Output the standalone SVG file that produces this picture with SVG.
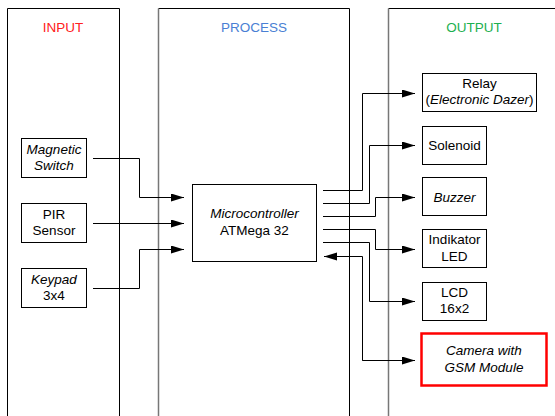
<svg xmlns="http://www.w3.org/2000/svg" width="555" height="416" viewBox="0 0 555 416">
<defs>
<marker id="arr" markerUnits="userSpaceOnUse" markerWidth="14" markerHeight="10" refX="13" refY="4" orient="auto">
<path d="M0,0 L13,4 L0,8 z" fill="#000"/>
</marker>
<style>
.col{fill:none;stroke:#000;stroke-width:1}
.colL{fill:none;stroke:#777;stroke-width:1.5}
.box{fill:#fff;stroke:#000;stroke-width:1}
.red{fill:#fff;stroke:#ff0000;stroke-width:2.5}
.t{font-family:"Liberation Sans",Arial,sans-serif;font-size:13.5px;text-anchor:middle;fill:#000}
.i{font-style:italic}
.hd{font-family:"Liberation Sans",Arial,sans-serif;font-size:13.5px;text-anchor:middle}
.ln{fill:none;stroke:#000;stroke-width:1}
</style>
</defs>
<rect width="555" height="416" fill="#fff"/>
<g id="columns">
<path class="col" d="M7.5,420 V8.5 H119.5 V420"/>
<path class="col" d="M158.5,8.5 H349.5 V420"/>
<path class="colL" d="M158.5,420 V8.5"/>
<path class="col" d="M388.5,8.5 H555"/>
<path class="colL" d="M388.5,420 V8.5"/>
<text class="hd" x="63" y="32" fill="#ff2020">INPUT</text>
<text class="hd" x="254" y="32" fill="#4a7fd4">PROCESS</text>
<text class="hd" x="474" y="32" fill="#1cb050">OUTPUT</text>
</g>
<g id="connectors">
<polyline class="ln" points="93,158.5 139.5,158.5 139.5,197.5 184,197.5" marker-end="url(#arr)"/>
<polyline class="ln" points="93,223.5 184,223.5" marker-end="url(#arr)"/>
<polyline class="ln" points="93,288.5 139.5,288.5 139.5,249.5 184,249.5" marker-end="url(#arr)"/>
<polyline class="ln" points="323,190.5 362.5,190.5 362.5,93.5 415,93.5" marker-end="url(#arr)"/>
<polyline class="ln" points="323,203.5 369.5,203.5 369.5,145.5 415,145.5" marker-end="url(#arr)"/>
<polyline class="ln" points="323,216.5 375.5,216.5 375.5,197.5 415,197.5" marker-end="url(#arr)"/>
<polyline class="ln" points="323,229.5 375.5,229.5 375.5,249.5 415,249.5" marker-end="url(#arr)"/>
<polyline class="ln" points="323,242.5 369.5,242.5 369.5,301.5 415,301.5" marker-end="url(#arr)"/>
<polyline class="ln" points="415,360.5 362.5,360.5 362.5,256.5 324,256.5" marker-end="url(#arr)"/>
<line class="ln" x1="362.5" y1="360.5" x2="415" y2="360.5" marker-end="url(#arr)"/>
</g>
<g id="magnetic">
<rect class="box" x="21.5" y="138.5" width="65" height="39"/>
<text class="t i" x="54" y="154">Magnetic</text>
<text class="t i" x="54" y="170">Switch</text>
</g>
<g id="pir">
<rect class="box" x="21.5" y="203.5" width="65" height="39"/>
<text class="t" x="54" y="219">PIR</text>
<text class="t" x="54" y="235">Sensor</text>
</g>
<g id="keypad">
<rect class="box" x="21.5" y="268.5" width="65" height="39"/>
<text class="t" x="54" y="284"><tspan class="i">Keypad</tspan></text>
<text class="t" x="54" y="300">3x4</text>
</g>
<g id="micro">
<rect class="box" x="192.5" y="184.5" width="124" height="77"/>
<text class="t i" x="254.5" y="218">Microcontroller</text>
<text class="t" x="254.5" y="235">ATMega 32</text>
</g>
<g id="relay">
<rect class="box" x="422.5" y="73.5" width="114" height="38"/>
<text class="t" x="479.5" y="88">Relay</text>
<text class="t" x="479.5" y="104">(<tspan class="i">Electronic Dazer</tspan>)</text>
</g>
<g id="solenoid">
<rect class="box" x="422.5" y="126.5" width="64" height="38"/>
<text class="t" x="454.5" y="150">Solenoid</text>
</g>
<g id="buzzer">
<rect class="box" x="422.5" y="177.5" width="64" height="38"/>
<text class="t i" x="454.5" y="202">Buzzer</text>
</g>
<g id="indikator">
<rect class="box" x="422.5" y="229.5" width="64" height="38"/>
<text class="t" x="454.5" y="244">Indikator</text>
<text class="t" x="454.5" y="261">LED</text>
</g>
<g id="lcd">
<rect class="box" x="422.5" y="282.5" width="64" height="38"/>
<text class="t" x="454.5" y="297">LCD</text>
<text class="t" x="454.5" y="313">16x2</text>
</g>
<g id="camera">
<rect class="red" x="421.5" y="333.5" width="125" height="52"/>
<text class="t i" x="484" y="355">Camera with</text>
<text class="t i" x="484" y="372">GSM Module</text>
</g>
</svg>
